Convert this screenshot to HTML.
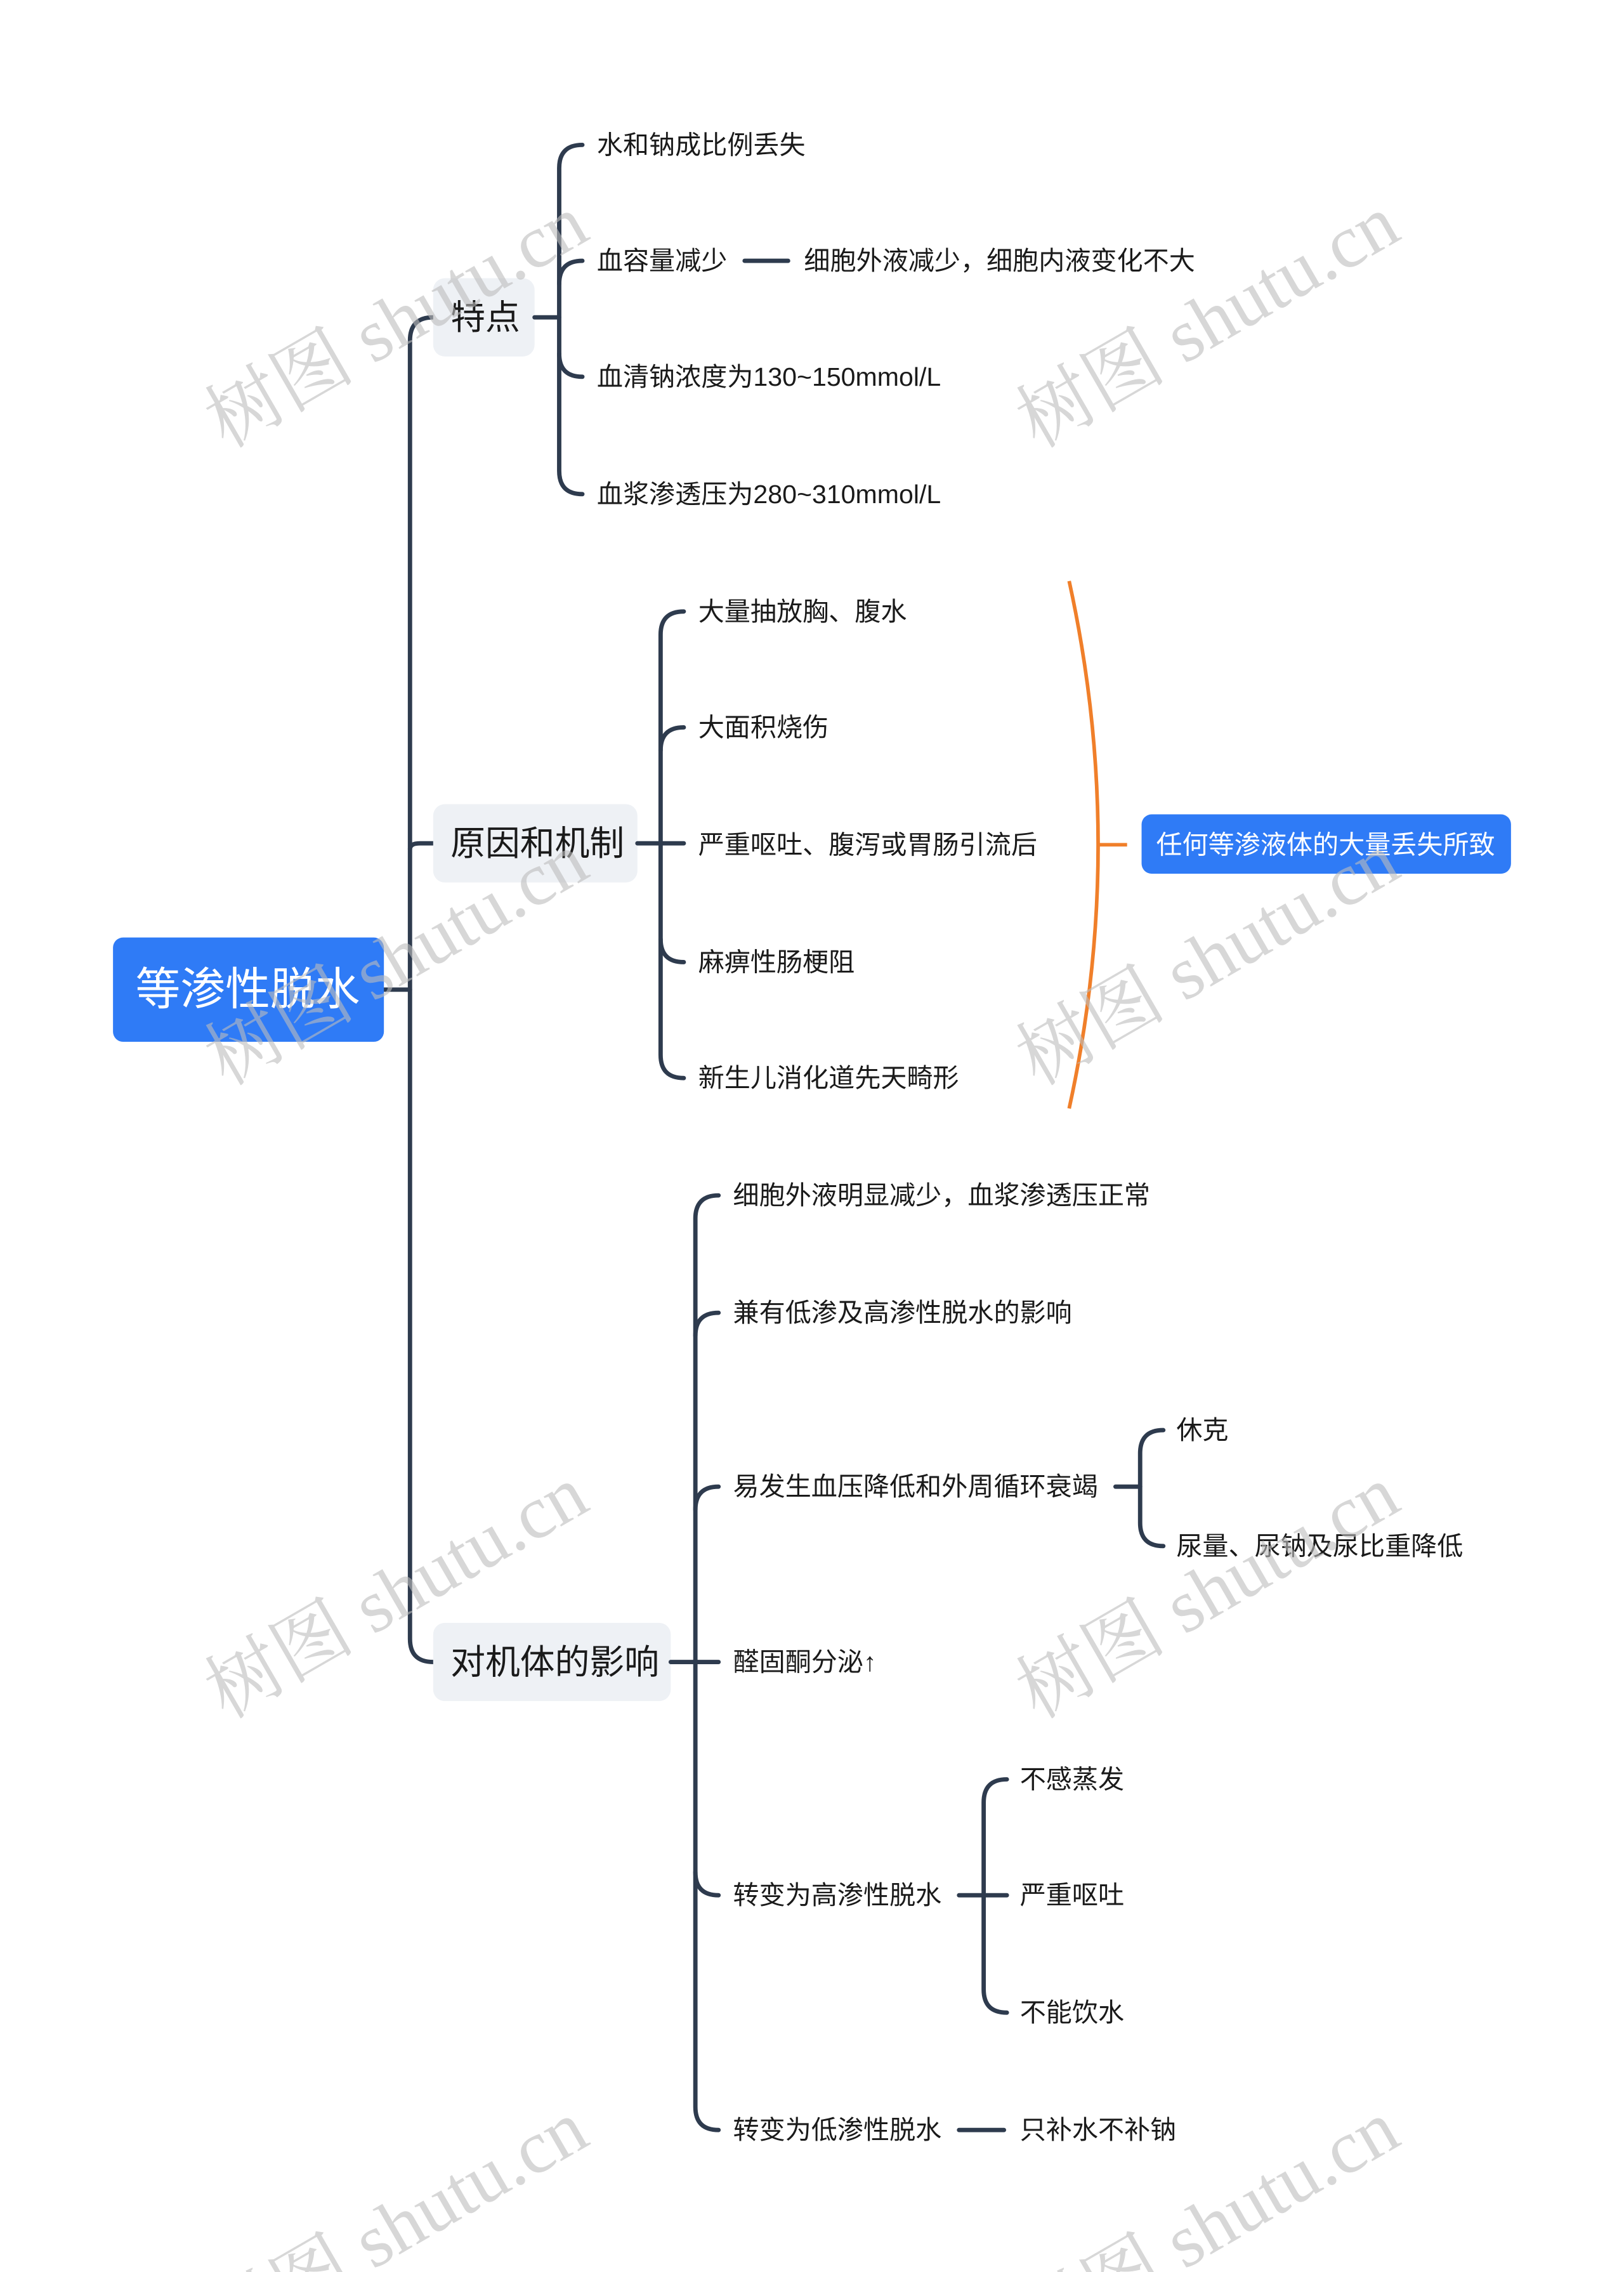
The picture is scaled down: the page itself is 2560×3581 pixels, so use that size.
<!DOCTYPE html>
<html><head><meta charset="utf-8"><style>
html,body{margin:0;padding:0;background:#fff}
svg{display:block}
text{font-family:"Liberation Sans","Noto Sans CJK SC",sans-serif;fill:#1a1a1a}
.t{font-size:18px;dominant-baseline:central}
.l1{font-size:24px;dominant-baseline:central}
.ln{fill:none;stroke:#2E3B4E;stroke-width:3;stroke-linecap:round}
.wm{font-family:"Liberation Serif","Noto Serif CJK SC",serif;font-size:52px;fill:#bdbdbd;opacity:.6}
</style></head><body>
<svg width="2560" height="3581" viewBox="0 0 1121 1568" preserveAspectRatio="none">
<rect width="1121" height="1568" fill="#fff"/>
<path class="ln" d="M265 683 H283"/>
<path class="ln" d="M299 219 Q283 219 283 235 V1131 Q283 1147 299 1147"/>
<path class="ln" d="M283 586 Q283 582 290 582 H299"/>
<rect x="78" y="647" width="187" height="72" rx="7" fill="#2F7BF6"/>
<text x="171" y="683" text-anchor="middle" dominant-baseline="central" style="font-size:31px;fill:#fff">等渗性脱水</text>
<rect x="299" y="192" width="70" height="54" rx="8" fill="#EEF1F5"/>
<text class="l1" x="311" y="219">特点</text>
<rect x="299" y="555" width="141" height="54" rx="8" fill="#EEF1F5"/>
<text class="l1" x="311" y="582">原因和机制</text>
<rect x="299" y="1120" width="164" height="54" rx="8" fill="#EEF1F5"/>
<text class="l1" x="311" y="1147">对机体的影响</text>

<path class="ln" d="M369 219 H386"/>
<path class="ln" d="M402 100 Q386 100 386 116 V325 Q386 341 402 341"/>
<path class="ln" d="M402 180 Q386 180 386 196"/>
<path class="ln" d="M402 260 Q386 260 386 244"/>
<text class="t" x="412" y="100">水和钠成比例丢失</text>
<text class="t" x="412" y="180">血容量减少</text>
<path class="ln" d="M514 180 H544"/>
<text class="t" x="555" y="180">细胞外液减少，细胞内液变化不大</text>
<text class="t" x="412" y="260">血清钠浓度为130~150mmol/L</text>
<text class="t" x="412" y="341">血浆渗透压为280~310mmol/L</text>

<path class="ln" d="M440 582 H472"/>
<path class="ln" d="M472 422 Q456 422 456 438 V728 Q456 744 472 744"/>
<path class="ln" d="M472 502 Q456 502 456 518"/>
<path class="ln" d="M472 664 Q456 664 456 648"/>
<text class="t" x="482" y="422">大量抽放胸、腹水</text>
<text class="t" x="482" y="502">大面积烧伤</text>
<text class="t" x="482" y="583">严重呕吐、腹泻或胃肠引流后</text>
<text class="t" x="482" y="664">麻痹性肠梗阻</text>
<text class="t" x="482" y="744">新生儿消化道先天畸形</text>
<path d="M738 401 Q778 583 738 765" fill="none" stroke="#F07F2A" stroke-width="2.5"/>
<path d="M758 583 H778" stroke="#F07F2A" stroke-width="2.5"/>
<rect x="788" y="562" width="255" height="41" rx="7" fill="#2F7BF6"/>
<text x="915" y="583" text-anchor="middle" dominant-baseline="central" style="font-size:18px;fill:#fff">任何等渗液体的大量丢失所致</text>

<path class="ln" d="M463 1147 H496"/>
<path class="ln" d="M496 825 Q480 825 480 841 V1454 Q480 1470 496 1470"/>
<path class="ln" d="M496 906 Q480 906 480 922"/>
<path class="ln" d="M496 1026 Q480 1026 480 1042"/>
<path class="ln" d="M496 1308 Q480 1308 480 1292"/>
<text class="t" x="506" y="825">细胞外液明显减少，血浆渗透压正常</text>
<text class="t" x="506" y="906">兼有低渗及高渗性脱水的影响</text>
<text class="t" x="506" y="1026">易发生血压降低和外周循环衰竭</text>
<text class="t" x="506" y="1147">醛固酮分泌↑</text>
<text class="t" x="506" y="1308">转变为高渗性脱水</text>
<text class="t" x="506" y="1470">转变为低渗性脱水</text>

<path class="ln" d="M770 1026 H787"/>
<path class="ln" d="M803 987 Q787 987 787 1003 V1051 Q787 1067 803 1067"/>
<text class="t" x="812" y="987">休克</text>
<text class="t" x="812" y="1067">尿量、尿钠及尿比重降低</text>

<path class="ln" d="M662 1308 H695"/>
<path class="ln" d="M695 1228 Q679 1228 679 1244 V1373 Q679 1389 695 1389"/>
<text class="t" x="704" y="1228">不感蒸发</text>
<text class="t" x="704" y="1308">严重呕吐</text>
<text class="t" x="704" y="1389">不能饮水</text>

<path class="ln" d="M662 1470 H693"/>
<text class="t" x="704" y="1470">只补水不补钠</text>

<g>
<text class="wm" transform="translate(156,310) rotate(-30)">树图 shutu.cn</text>
<text class="wm" transform="translate(716,310) rotate(-30)">树图 shutu.cn</text>
<text class="wm" transform="translate(156,750) rotate(-30)">树图 shutu.cn</text>
<text class="wm" transform="translate(716,750) rotate(-30)">树图 shutu.cn</text>
<text class="wm" transform="translate(156,1187) rotate(-30)">树图 shutu.cn</text>
<text class="wm" transform="translate(716,1187) rotate(-30)">树图 shutu.cn</text>
<text class="wm" transform="translate(156,1625) rotate(-30)">树图 shutu.cn</text>
<text class="wm" transform="translate(716,1625) rotate(-30)">树图 shutu.cn</text>
</g>
</svg>
</body></html>
